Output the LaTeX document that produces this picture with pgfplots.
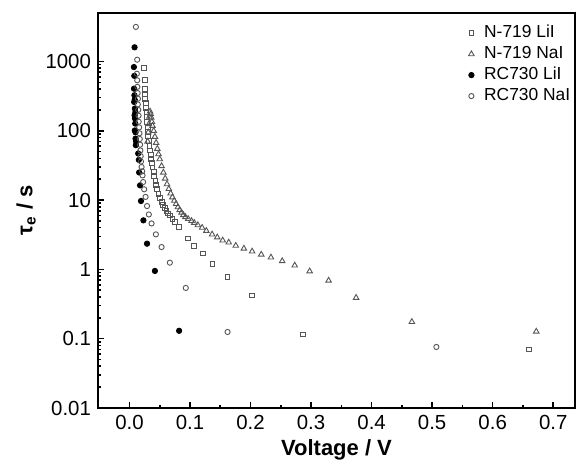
\documentclass[border=0pt]{standalone}
\usepackage{fontspec}
\setmainfont{Liberation Sans}
\setsansfont{Liberation Sans}
\usepackage{pgfplots}
\pgfplotsset{compat=1.18}

\definecolor{markgray}{HTML}{555555}

\begin{document}
\begin{tikzpicture}
\begin{axis}[
    scale only axis,
    width=238.5pt, height=197.5pt,
    xmin=-0.052, xmax=0.736,
    ymode=log, ymin=0.01, ymax=5000,
    xtick={0,0.1,0.2,0.3,0.4,0.5,0.6,0.7},
    xticklabels={0.0,0.1,0.2,0.3,0.4,0.5,0.6,0.7},
    minor x tick num=1,
    ytick={0.01,0.1,1,10,100,1000},
    yticklabels={0.01,0.1,1,10,100,1000},
    tick pos=left,
    tick align=inside,
    major tick length=3pt,
    minor tick length=1.6pt,
    every tick/.style={black, line width=0.8pt},
    axis line style={line width=1.2pt},
    ticklabel style={font=\fontsize{10.2}{12}\selectfont},
    xlabel={\textbf{Voltage / V}},
    ylabel={\textbf{τ\textsubscript{e} / s}},
    label style={font=\fontsize{11}{13}\selectfont},
    xlabel style={yshift=2pt},
    ylabel style={yshift=-2pt},
    legend style={at={(rel axis cs:0.772,0.985)}, anchor=north west,
        draw=none, fill=none, font=\fontsize{8.7}{10}\selectfont,
        row sep=-1.2pt, inner sep=1pt,
        /tikz/every odd column/.append style={column sep=3pt}},
    legend cell align=left,
]

% N-719 LiI
\addplot[only marks, mark=square, mark size=1.2pt, color=markgray, mark options={line width=0.45pt}]
coordinates {
(0.024,800)(0.025,540)(0.025,400)(0.026,335)(0.026,290)(0.027,250)(0.027,215)
(0.028,185)(0.028,160)(0.029,135)(0.030,115)(0.031,97)(0.031,83)(0.032,71)
(0.033,61)(0.034,52)(0.035,45)(0.036,39)(0.037,34)(0.038,29.5)(0.040,25.5)
(0.041,22)(0.043,19)(0.044,16.5)(0.046,14.3)(0.048,12.4)(0.050,10.7)(0.053,9.5)
(0.0556,8.4)(0.058,7.6)(0.061,6.9)(0.064,6.4)(0.067,6.0)(0.071,5.3)(0.075,4.8)
(0.0815,4.1)(0.097,2.8)(0.107,2.2)(0.121,1.7)(0.137,1.2)(0.162,0.78)(0.202,0.42)
(0.287,0.115)(0.660,0.070)
};

% N-719 NaI
\addplot[only marks, mark=triangle, mark size=1.6pt, color=markgray, mark options={line width=0.45pt}]
coordinates {
(0.030,70)(0.031,95)(0.032,125)(0.033,160)(0.034,190)(0.035,175)(0.036,155)
(0.037,135)(0.038,118)(0.040,100)(0.042,82)(0.044,67)(0.046,55)(0.048,46)
(0.050,39)(0.053,31)(0.056,25)(0.059,20.5)(0.062,17)(0.065,14.5)(0.068,12.5)
(0.071,11)(0.074,9.8)(0.077,8.8)(0.080,7.9)(0.083,7.2)(0.086,6.6)(0.089,6.1)
(0.0925,5.7)(0.097,5.35)(0.1025,5.0)(0.107,4.7)(0.113,4.35)(0.120,4.0)(0.127,3.6)
(0.1365,3.2)(0.145,2.9)(0.154,2.62)(0.164,2.45)(0.1756,2.2)(0.189,2.0)(0.2026,1.82)
(0.2177,1.64)(0.2337,1.49)(0.2523,1.32)(0.273,1.14)(0.2977,0.94)(0.329,0.69)
(0.3744,0.39)(0.4665,0.175)(0.672,0.127)
};

% RC730 LiI
\addplot[only marks, mark=*, mark size=1.35pt, color=black]
coordinates {
(0.0084,1600)(0.0073,830)(0.0080,620)(0.0075,405)(0.0082,325)(0.0078,260)
(0.0087,280)(0.0090,209)(0.0098,185)(0.0085,167)(0.0092,150)(0.0095,127)
(0.0088,101)(0.0100,95)(0.0100,77)(0.0110,70)(0.0105,62)(0.0144,47)(0.0155,38)
(0.016,25)(0.0175,16.3)(0.019,9.7)(0.023,5.1)(0.029,2.35)(0.042,0.95)(0.082,0.13)
};

% RC730 NaI
\addplot[only marks, mark=o, mark size=1.3pt, color=markgray, mark options={line width=0.45pt}]
coordinates {
(0.0106,3150)(0.0127,1060)(0.0122,665)(0.0128,535)(0.013,430)(0.0135,350)
(0.014,290)(0.0138,240)(0.0145,200)(0.015,165)(0.0152,135)(0.016,112)
(0.0165,92)(0.017,76)(0.0175,63)(0.018,52)(0.0185,43)(0.019,36)(0.020,30)
(0.021,26)(0.0216,22.7)(0.0226,18.2)(0.0243,14.3)(0.0266,11.1)(0.029,8.2)
(0.032,6.2)(0.0365,4.6)(0.0436,3.2)(0.053,2.1)(0.0667,1.25)(0.093,0.54)
(0.162,0.125)(0.507,0.076)
};

\legend{N-719 LiI, N-719 NaI, RC730 LiI, RC730 NaI}
\end{axis}
\path (-49pt,-30pt) rectangle (243pt,204pt);
\end{tikzpicture}
\end{document}
